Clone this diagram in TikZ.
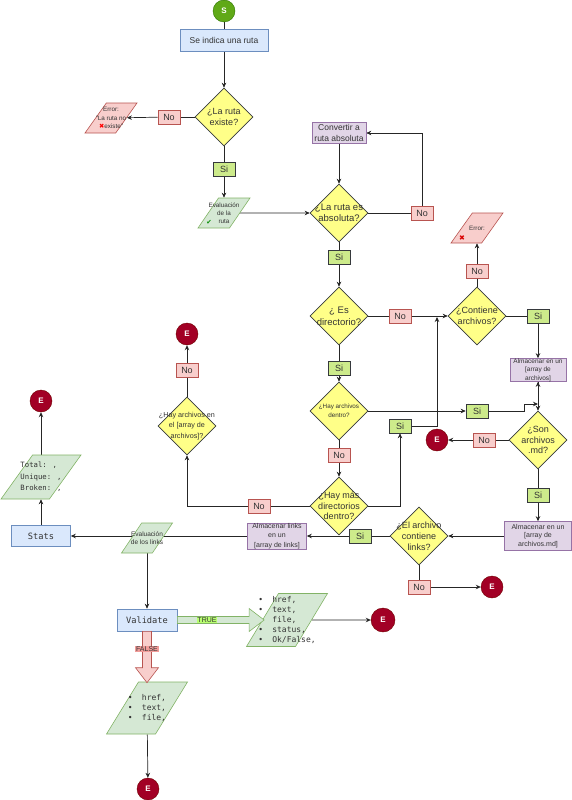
\documentclass[tikz,border=0pt]{standalone}
\usepackage{fontspec}
\setmainfont{Liberation Sans}
\newfontfamily\monof{DejaVu Sans Mono}
\newfontfamily\symf{DejaVu Sans}
\usetikzlibrary{shapes.geometric,arrows.meta,calc}
\definecolor{dfill}{HTML}{FFFF88}
\definecolor{dline}{HTML}{36393D}
\definecolor{pfill}{HTML}{F8CECC}
\definecolor{pline}{HTML}{B85450}
\definecolor{gfill}{HTML}{CDEB8B}
\definecolor{lgfill}{HTML}{D5E8D4}
\definecolor{lgline}{HTML}{82B366}
\definecolor{bfill}{HTML}{DAE8FC}
\definecolor{bline}{HTML}{6C8EBF}
\definecolor{vfill}{HTML}{E1D5E7}
\definecolor{vline}{HTML}{9673A6}
\definecolor{efill}{HTML}{A20025}
\definecolor{eline}{HTML}{6F0000}
\definecolor{sfill}{HTML}{60A917}
\definecolor{sline}{HTML}{2D7600}
\definecolor{truebg}{HTML}{B9FF70}
\definecolor{falsebg}{HTML}{F19C99}
\definecolor{txt}{HTML}{333333}
\pgfdeclarelayer{bg}
\pgfsetlayers{bg,main}
\begin{document}
\begin{tikzpicture}[x=1pt,y=-1pt,
  conn/.style={draw=black!85, line width=0.7pt},
  arr/.style={conn, -{Stealth[length=5pt,width=4.5pt]}},
  dia/.style={diamond, draw=dline, fill=dfill, minimum width=58pt, minimum height=58pt, inner sep=0pt, line width=0.6pt},
  ft/.style={font=\fontsize{9}{11}\selectfont, align=center, inner sep=0pt, text=txt},
  nobox/.style={draw=pline, fill=pfill, minimum width=22pt, minimum height=14pt, inner sep=0pt, line width=0.6pt, text=txt, font=\fontsize{9}{10}\selectfont},
  sibox/.style={draw=dline, fill=gfill, minimum width=22pt, minimum height=14pt, inner sep=0pt, line width=0.6pt, text=txt, font=\fontsize{9}{10}\selectfont},
  endc/.style={circle, draw=eline, fill=efill, minimum size=22pt, inner sep=0pt, text=white, font=\bfseries\fontsize{8}{8}\selectfont},
  para/.style={trapezium, trapezium left angle=75, trapezium right angle=105, trapezium stretches=true, draw=lgline, fill=lgfill, inner sep=1pt, line width=0.6pt},
  errp/.style={para, trapezium left angle=72, trapezium right angle=108, draw=pline, fill=pfill},
  proc/.style={rectangle, draw=vline, fill=vfill, inner sep=0pt, line width=0.6pt},
  bproc/.style={rectangle, draw=bline, fill=bfill, inner sep=0pt, line width=0.6pt, text=txt}
]
\useasboundingbox (0,0) rectangle (572,800);

% top
\node[endc, draw=sline, fill=sfill] (S) at (224,11) {S};
\node[bproc, minimum width=88pt, minimum height=22pt, font=\fontsize{8.5}{10}\selectfont] (r0) at (224,40) {Se indica una ruta};
\node[dia, label={[ft]center:{¿La ruta\\existe?}}] (d1) at (224,117) {};
\node[nobox] (no1) at (169,117) {No};
\node[errp, minimum width=52pt, minimum height=30pt, label={[ft,font=\fontsize{6.3}{8.2}\selectfont]center:{Error:\\"La ruta no\\{\symf\color{red}✖}existe"}}] (err1) at (111,118) {\strut};
\node[sibox] (si1) at (224,169) {Si};
\node[para, minimum width=52pt, minimum height=30pt, label={[ft,font=\fontsize{6.3}{8}\selectfont]center:{Evaluación\\de la\\ruta}}] (ev1) at (224,213) {\strut};
\node[font={\symf\fontsize{6.5}{6.5}\selectfont}, text=green!55!black, inner sep=0pt] (chk) at (209,222) {✔};

% absolute path
\node[proc, minimum width=54pt, minimum height=21pt, label={[ft,font=\fontsize{8.5}{11}\selectfont]center:{Convertir a\\ruta absoluta}}] (conv) at (339,133) {};
\node[dia, label={[ft,font=\fontsize{9.5}{11}\selectfont]center:{¿La ruta es\\absoluta?}}] (d2) at (339,213) {};
\node[nobox] (no2) at (422,213) {No};
\node[sibox] (si2) at (339,257) {Si};
\node[dia, label={[ft,font=\fontsize{9.5}{12}\selectfont]center:{¿ Es\\directorio?}}] (d3) at (339,316) {};
\node[nobox] (no3) at (400,316) {No};
\node[dia, label={[ft]center:{¿Contiene\\archivos?}}] (d4) at (477,316) {};
\node[nobox] (no4) at (477,271) {No};
\node[errp, minimum width=52pt, minimum height=30pt, label={[ft,font=\fontsize{6.3}{8}\selectfont]center:{Error:}}] (err2) at (477,228) {\strut};
\node[font={\symf\fontsize{7}{7}\selectfont}, text=red!85!black, inner sep=0pt] (x2) at (462,238) {✖};
\node[sibox] (si4) at (538,316) {Si};
\node[proc, minimum width=56pt, minimum height=23pt, label={[ft,font=\fontsize{6.5}{8.5}\selectfont]center:{Almacenar en un\\{[}array de\\archivos{]}}}] (alm1) at (538,370) {};

% middle column
\node[sibox] (si3) at (339,368) {Si};
\node[dia, label={[ft,font=\fontsize{6.3}{9}\selectfont]center:{¿Hay archivos\\dentro?}}] (d5) at (339,411) {};
\node[sibox] (si5) at (477,411) {Si};
\node[dia, label={[ft,font=\fontsize{9}{10.5}\selectfont]center:{¿Son\\archivos\\.md?}}] (d6) at (538,440) {};
\node[nobox] (no6) at (484,440) {No};
\node[endc] (e1) at (437,440) {E};
\node[nobox] (no5) at (339,455) {No};
\node[dia, label={[ft,font=\fontsize{9}{10.5}\selectfont]center:{¿Hay más\\directorios\\dentro?}}] (d7) at (339,506) {};
\node[sibox] (si7) at (400,426) {Si};
\node[nobox] (no7) at (259,506) {No};
\node[dia, label={[ft,font=\fontsize{7.2}{10.8}\selectfont]center:{¿Hay archivos en\\el {[}array de\\archivos{]}?}}] (d8) at (187,426) {};
\node[nobox] (no8) at (187,370) {No};
\node[endc] (e2) at (187,334) {E};
\node[sibox] (si6) at (538,495) {Si};
\node[proc, minimum width=67pt, minimum height=29pt, label={[ft,font=\fontsize{7}{8.7}\selectfont]center:{Almacenar en un\\{[}array de\\archivos.md{]}}}] (alm2) at (538,536) {};
\node[dia, label={[ft,font=\fontsize{9}{11}\selectfont]center:{¿El archivo\\contiene\\links?}}] (d9) at (419,536) {};
\node[nobox] (no9) at (419,587) {No};
\node[endc] (e3) at (492,587) {E};
\node[sibox] (si9) at (360,536) {Si};
\node[proc, minimum width=59pt, minimum height=26pt, label={[ft,font=\fontsize{7}{9.3}\selectfont]center:{Almacenar links\\en un\\{[}array de links{]}}}] (alm3) at (277,536) {};

% left / bottom
\node[para, minimum width=51pt, minimum height=30pt, label={[ft,font=\fontsize{6.5}{8}\selectfont]center:{Evaluación\\de los links}}] (ev2) at (147,538) {\strut};
\node[bproc, minimum width=59pt, minimum height=21pt, font=\monof\fontsize{8.7}{10}\selectfont] (stats) at (41,536) {Stats};
\node[para, minimum width=80pt, minimum height=44pt, label={[ft,align=left,font=\monof\fontsize{7.3}{11.3}\selectfont]center:{Total: ,\\Unique: ,\\Broken: ,}}] (tot) at (41,477) {\strut};
\node[endc] (e4) at (41,401) {E};
\node[bproc, minimum width=60pt, minimum height=22pt, font=\monof\fontsize{8.7}{10}\selectfont] (val) at (147,620) {Validate};
\node[para, minimum width=81pt, minimum height=53pt, label={[ft,align=left,font=\monof\fontsize{8}{10}\selectfont]center:{\makebox[14pt][l]{•}href,\\\makebox[14pt][l]{•}text,\\\makebox[14pt][l]{•}file,\\\makebox[14pt][l]{•}status,\\\makebox[14pt][l]{•}Ok/False,}}] (tl) at (287,620) {\strut};
\node[endc, minimum size=24pt] (e5) at (383,620) {E};
\node[para, minimum width=81pt, minimum height=52pt, label={[ft,align=left,font=\monof\fontsize{8}{10}\selectfont]center:{\makebox[14pt][l]{•}href,\\\makebox[14pt][l]{•}text,\\\makebox[14pt][l]{•}file,}}] (fl) at (147,708) {\strut};
\node[endc] (e6) at (148,789) {E};

% block arrows
\draw[draw=lgline, fill=lgfill, line width=0.6pt] ($(val.east)+(0,-3.5)$) -- ($(tl.west)+(-13,-3.5)$) -- ($(tl.west)+(-13,-11.5)$) -- ($(tl.west)+(2,0)$) -- ($(tl.west)+(-13,11.5)$) -- ($(tl.west)+(-13,3.5)$) -- ($(val.east)+(0,3.5)$) -- cycle;
\draw[draw=pline, fill=pfill, line width=0.6pt] ($(val.south)+(-4.5,0)$) -- ($(fl.north)+(-4.5,-14)$) -- ($(fl.north)+(-11.5,-14)$) -- ($(fl.north)+(0,1)$) -- ($(fl.north)+(11.5,-14)$) -- ($(fl.north)+(4.5,-14)$) -- ($(val.south)+(4.5,0)$) -- cycle;
\node[fill=truebg, inner sep=0.8pt, text=txt, font=\fontsize{7}{7}\selectfont] (tt) at (207,620) {TRUE};
\node[fill=falsebg, inner sep=0.8pt, text=txt, font=\fontsize{7}{7}\selectfont] (ff) at (147,649) {FALSE};

\begin{pgfonlayer}{bg}
\draw[conn] (S) -- (r0);
\draw[arr] (r0) -- (d1);
\draw[conn] (d1) -- (no1);
\draw[arr] (no1) -- (err1);
\draw[conn] (d1) -- (si1);
\draw[arr] (si1) -- (ev1);
\draw[arr] (ev1) -- (d2);
\draw[conn] (d2) -- (no2);
\draw[arr] (no2.north) |- (conv.east);
\draw[arr] (conv) -- (d2);
\draw[conn] (d2) -- (si2);
\draw[arr] (si2) -- (d3);
\draw[conn] (d3) -- (no3);
\draw[arr] (no3) -- (d4);
\draw[conn] (d4) -- (no4);
\draw[arr] (no4) -- (err2);
\draw[conn] (d4) -- (si4);
\draw[arr] (si4) -- (alm1);
\draw[conn] (d3) -- (si3);
\draw[arr] (si3) -- (d5);
\draw[arr] (d5) -- (si5);
\coordinate (j1) at (538,404);
\draw[arr] (si5.east) -- ++(36,0) -- ++(0,-7) -- (j1);
\draw[arr] (j1) -- (alm1.south);
\draw[arr] (alm1) -- (d6);
\draw[conn] (d6) -- (no6);
\draw[arr] (no6) -- (e1);
\draw[conn] (d6) -- (si6);
\draw[arr] (si6) -- (alm2);
\draw[arr] (alm2) -- (d9);
\draw[conn] (d9) -- (si9);
\draw[arr] (si9) -- (alm3);
\draw[conn] (d9) -- (no9);
\draw[arr] (no9) -- (e3);
\draw[conn] (d5) -- (no5);
\draw[arr] (no5) -- (d7);
\draw[arr] (d7.east) -| (si7.south);
\coordinate (j2) at (437,317);
\draw[arr] (si7.east) -| (j2);
\draw[conn] (d7) -- (no7);
\draw[arr] (no7.west) -| (d8.south);
\draw[conn] (d8) -- (no8);
\draw[arr] (no8) -- (e2);
\draw[arr] (alm3) -- (stats);
\draw[arr] (ev2) -- (val);
\draw[arr] (stats) -- (tot);
\draw[arr] (tot) -- (e4);
\draw[arr] (tl) -- (e5);
\draw[arr] (fl) -- (e6);
\end{pgfonlayer}
\end{tikzpicture}
\end{document}
